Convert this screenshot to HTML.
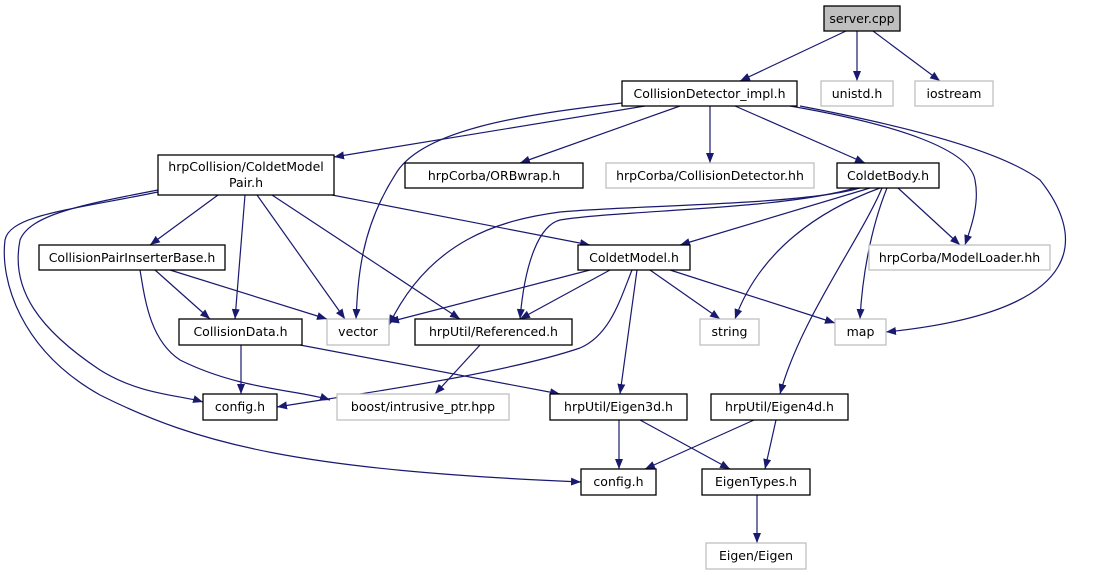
<!DOCTYPE html>
<html><head><meta charset="utf-8"><style>
body{margin:0;background:#fff;width:1094px;height:575px;overflow:hidden}
svg text{font-family:"DejaVu Sans","Liberation Sans",sans-serif;font-size:12.5px;fill:#000}
</style></head><body>
<svg width="1094" height="575" viewBox="0 0 1094 575" xmlns="http://www.w3.org/2000/svg">
<defs><marker id="a" viewBox="0 0 10 10" refX="10" refY="5" markerWidth="10" markerHeight="10" markerUnits="userSpaceOnUse" orient="auto"><path d="M0,1 L10,5 L0,9 z" fill="#191970"/></marker></defs>
<g fill="none" stroke="#191970" stroke-width="1.2" marker-end="url(#a)">
<path d="M846,31 L740,81"/>
<path d="M857,31 L857,81"/>
<path d="M873,31 L940,81"/>
<path d="M645,106 L334,157"/>
<path d="M680,106 L520,163"/>
<path d="M710,106 L710,163"/>
<path d="M735,106 L865,163"/>
<path d="M790,106 C900,125 970,150 975,180 C980,205 970,230 965,245"/>
<path d="M800,106 C900,125 1000,150 1040,180 C1080,230 1100,310 886,332"/>
<path d="M622,103 C520,115 420,130 395,175 C360,230 358,280 356,319"/>
<path d="M218,195 L150,245"/>
<path d="M245,195 L235,319"/>
<path d="M257,195 L345,319"/>
<path d="M272,195 L460,319"/>
<path d="M332,195 L590,245"/>
<path d="M158,190 C80,205 30,215 20,240 C10,290 40,330 100,370 C140,395 180,395 203,402"/>
<path d="M158,192 C70,210 10,215 5,240 C0,280 20,350 100,395 C200,445 300,470 581,482"/>
<path d="M155,270 L210,319"/>
<path d="M170,270 L327,319"/>
<path d="M140,270 C145,300 150,340 180,360 C240,390 300,390 330,400"/>
<path d="M870,188 L680,245"/>
<path d="M860,188 C800,205 640,205 560,212 C500,220 430,240 389,325"/>
<path d="M855,188 C780,210 620,210 560,220 C540,225 525,260 520,319"/>
<path d="M880,188 C820,210 760,250 735,319"/>
<path d="M882,188 C860,240 800,320 780,394"/>
<path d="M887,188 C870,230 862,280 860,319"/>
<path d="M898,188 L960,245"/>
<path d="M590,270 L389,322"/>
<path d="M610,270 L520,319"/>
<path d="M650,270 L720,319"/>
<path d="M670,270 L835,323"/>
<path d="M632,270 C620,300 610,335 580,348 C500,375 350,395 277,407"/>
<path d="M637,270 L620,394"/>
<path d="M300,345 L560,394"/>
<path d="M241,345 L241,394"/>
<path d="M480,345 L435,394"/>
<path d="M619,420 L619,469"/>
<path d="M640,420 L730,469"/>
<path d="M754,420 L645,469"/>
<path d="M776,420 L765,469"/>
<path d="M757,495 L757,543"/>
</g>
<g stroke-width="1.3">
<rect x="824" y="6" width="76" height="25" fill="#bfbfbf" stroke="#000"/>
<rect x="622" y="81" width="175" height="25" fill="#fff" stroke="#000"/>
<rect x="821" y="81" width="72" height="25" fill="#fff" stroke="#bfbfbf"/>
<rect x="915" y="81" width="78" height="25" fill="#fff" stroke="#bfbfbf"/>
<rect x="158" y="155" width="176" height="40" fill="#fff" stroke="#000"/>
<rect x="405" y="163" width="178" height="25" fill="#fff" stroke="#000"/>
<rect x="606" y="163" width="208" height="25" fill="#fff" stroke="#bfbfbf"/>
<rect x="837" y="163" width="102" height="25" fill="#fff" stroke="#000"/>
<rect x="39" y="245" width="186" height="25" fill="#fff" stroke="#000"/>
<rect x="578" y="245" width="112" height="25" fill="#fff" stroke="#000"/>
<rect x="869" y="245" width="181" height="25" fill="#fff" stroke="#bfbfbf"/>
<rect x="179" y="319" width="123" height="26" fill="#fff" stroke="#000"/>
<rect x="327" y="319" width="62" height="26" fill="#fff" stroke="#bfbfbf"/>
<rect x="415" y="319" width="157" height="26" fill="#fff" stroke="#000"/>
<rect x="700" y="319" width="59" height="26" fill="#fff" stroke="#bfbfbf"/>
<rect x="835" y="319" width="51" height="26" fill="#fff" stroke="#bfbfbf"/>
<rect x="203" y="394" width="74" height="26" fill="#fff" stroke="#000"/>
<rect x="337" y="394" width="172" height="26" fill="#fff" stroke="#bfbfbf"/>
<rect x="550" y="394" width="137" height="26" fill="#fff" stroke="#000"/>
<rect x="711" y="394" width="137" height="26" fill="#fff" stroke="#000"/>
<rect x="581" y="469" width="75" height="26" fill="#fff" stroke="#000"/>
<rect x="702" y="469" width="108" height="26" fill="#fff" stroke="#000"/>
<rect x="706" y="543" width="100" height="26" fill="#fff" stroke="#bfbfbf"/>
</g>
<g text-anchor="middle">
<text x="862" y="23">server.cpp</text>
<text x="709.5" y="98">CollisionDetector_impl.h</text>
<text x="857" y="98">unistd.h</text>
<text x="954" y="98">iostream</text>
<text x="246" y="171">hrpCollision/ColdetModel</text>
<text x="246" y="187">Pair.h</text>
<text x="494" y="180">hrpCorba/ORBwrap.h</text>
<text x="710" y="180">hrpCorba/CollisionDetector.hh</text>
<text x="888" y="180">ColdetBody.h</text>
<text x="132" y="262">CollisionPairInserterBase.h</text>
<text x="634" y="262">ColdetModel.h</text>
<text x="959.5" y="262">hrpCorba/ModelLoader.hh</text>
<text x="240.5" y="336">CollisionData.h</text>
<text x="358" y="336">vector</text>
<text x="493.5" y="336">hrpUtil/Referenced.h</text>
<text x="729.5" y="336">string</text>
<text x="860.5" y="336">map</text>
<text x="240" y="411">config.h</text>
<text x="423" y="411">boost/intrusive_ptr.hpp</text>
<text x="618.5" y="411">hrpUtil/Eigen3d.h</text>
<text x="779.5" y="411">hrpUtil/Eigen4d.h</text>
<text x="618.5" y="486">config.h</text>
<text x="756" y="486">EigenTypes.h</text>
<text x="756" y="560">Eigen/Eigen</text>
</g>
</svg>
</body></html>
